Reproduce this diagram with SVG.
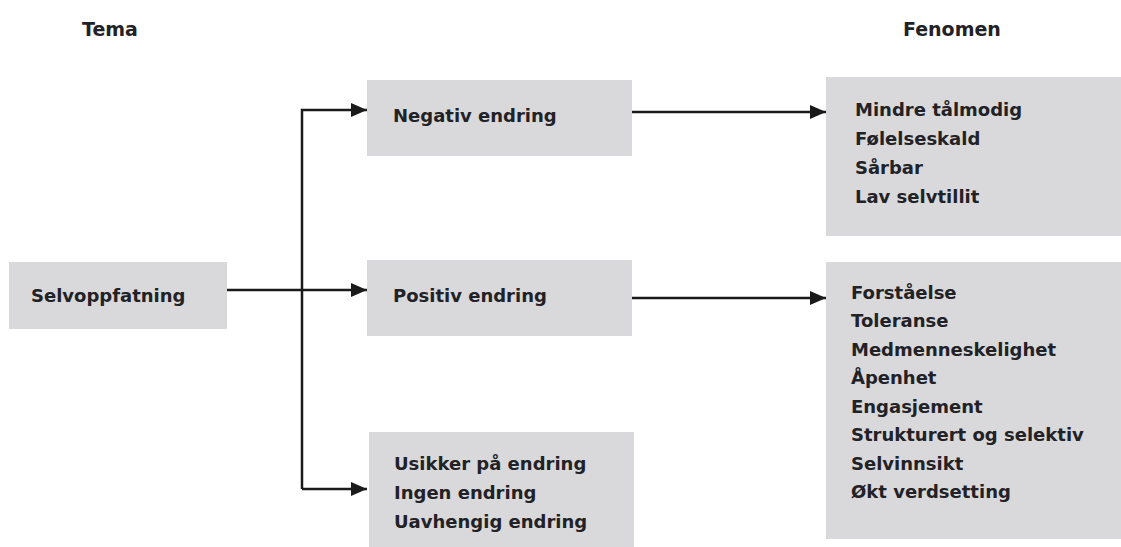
<svg xmlns="http://www.w3.org/2000/svg" width="1121" height="547" viewBox="0 0 1121 547">
  <style>
    .box { fill: #d9d9db; }
    .lbl { font-family: "DejaVu Sans", "Liberation Sans", sans-serif; font-weight: bold; font-size: 18px; fill: #222226; }
    .head { font-family: "DejaVu Sans", "Liberation Sans", sans-serif; font-weight: bold; font-size: 19px; fill: #222226; }
    .wire { stroke: #1a1a1a; stroke-width: 2.5; fill: none; }
  </style>
  <defs>
    <marker id="arrow" markerUnits="userSpaceOnUse" markerWidth="16" markerHeight="14" refX="16" refY="7" orient="auto">
      <path d="M0,0 L16,7 L0,14 Z" fill="#1a1a1a"/>
    </marker>
  </defs>

  <!-- column headings -->
  <text class="head" x="82" y="36">Tema</text>
  <text class="head" x="903" y="36">Fenomen</text>

  <!-- connectors -->
  <g id="connectors">
    <line class="wire" x1="227" y1="290" x2="367" y2="290" marker-end="url(#arrow)"/>
    <polyline class="wire" points="302,489 302,110 367,110" marker-end="url(#arrow)"/>
    <line class="wire" x1="302" y1="489" x2="367" y2="489" marker-end="url(#arrow)"/>
    <line class="wire" x1="632" y1="112" x2="826" y2="112" marker-end="url(#arrow)"/>
    <line class="wire" x1="632" y1="298" x2="826" y2="298" marker-end="url(#arrow)"/>
  </g>

  <g id="selvoppfatning">
    <rect class="box" x="9" y="262" width="218" height="67"/>
    <text class="lbl" x="31" y="302">Selvoppfatning</text>
  </g>

  <g id="negativ-endring">
    <rect class="box" x="367" y="80" width="265" height="76"/>
    <text class="lbl" x="393" y="122">Negativ endring</text>
  </g>

  <g id="positiv-endring">
    <rect class="box" x="367" y="260" width="265" height="76"/>
    <text class="lbl" x="393" y="302">Positiv endring</text>
  </g>

  <g id="usikker-endring">
    <rect class="box" x="369" y="432" width="265" height="115"/>
    <text class="lbl" x="394" y="470">Usikker på endring</text>
    <text class="lbl" x="394" y="499">Ingen endring</text>
    <text class="lbl" x="394" y="528">Uavhengig endring</text>
  </g>

  <g id="fenomen-negativ">
    <rect class="box" x="826" y="77" width="295" height="159"/>
    <text class="lbl" x="855" y="116">Mindre tålmodig</text>
    <text class="lbl" x="855" y="145">Følelseskald</text>
    <text class="lbl" x="855" y="174">Sårbar</text>
    <text class="lbl" x="855" y="203">Lav selvtillit</text>
  </g>

  <g id="fenomen-positiv">
    <rect class="box" x="826" y="262" width="295" height="277"/>
    <text class="lbl" x="851" y="299">Forståelse</text>
    <text class="lbl" x="851" y="327">Toleranse</text>
    <text class="lbl" x="851" y="356">Medmenneskelighet</text>
    <text class="lbl" x="851" y="384">Åpenhet</text>
    <text class="lbl" x="851" y="413">Engasjement</text>
    <text class="lbl" x="851" y="441">Strukturert og selektiv</text>
    <text class="lbl" x="851" y="470">Selvinnsikt</text>
    <text class="lbl" x="851" y="498">Økt verdsetting</text>
  </g>
</svg>
